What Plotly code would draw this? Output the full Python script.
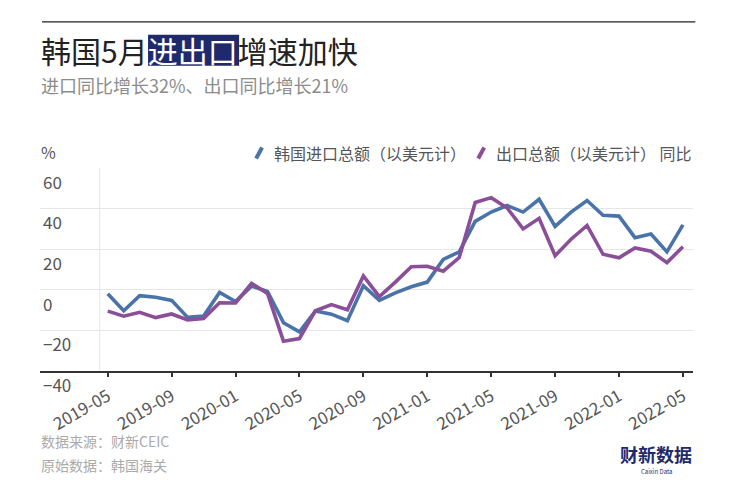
import plotly.graph_objects as go
import pandas as pd

# ---------------- data ----------------
months = [p.strftime("%Y-%m") for p in pd.period_range("2019-05", "2022-05", freq="M")]
tick_months = ["2019-05", "2019-09", "2020-01", "2020-05", "2020-09", "2021-01",
               "2021-05", "2021-09", "2022-01", "2022-05"]
imports_yoy = [-2, -10.3, -2.9, -3.7, -5.2, -13.6, -12.9, -1.3, -5.8, 1.8, -0.8, -16.2, -20.7,
               -10.4, -12, -15.2, 2, -5.2, -1.5, 1.5, 3.8, 15, 18.7, 33.7, 38.3, 41.5, 38.3,
               44.6, 31.2, 38.3, 44, 36.7, 36.3, 25.7, 27.5, 18.7, 32]
exports_yoy = [-10.5, -13, -11.1, -13.7, -11.9, -14.8, -14.2, -6.4, -6.5, 3.2, -1.8, -25.3, -24,
               -10.3, -7.3, -9.8, 6.8, -3.3, 3.8, 11.4, 11.6, 9.2, 15.9, 43, 45.4, 40.3, 30,
               35.2, 16.8, 24.9, 31.7, 17.5, 15.8, 20.6, 19, 13.4, 21.2]
series_names = ["韩国进口总额（以美元计）", "出口总额（以美元计） 同比"]
colors = ["#4a73aa", "#8a4f98"]

title_pre, title_hi, title_post = "韩国5月", "进出口", "增速加快"
subtitle = "进口同比增长32%、出口同比增长21%"
footer = ["数据来源：财新CEIC", "原始数据：韩国海关"]

# ---------------- geometry helpers ----------------
W, H = 731, 487
L, R, T, B = 40, 692.7, 168, 370.7
PW, PH = R - L, B - T


def px(x):
    return (x - L) / PW


def py(y):
    return (B - y) / PH


FONT = "Noto Sans CJK SC"

fig = go.Figure()
for name, vals, c in zip(series_names, [imports_yoy, exports_yoy], colors):
    fig.add_trace(go.Scatter(x=months, y=vals, mode="lines", name=name,
                             line=dict(color=c, width=3.6), showlegend=False))

i_left = (L - 107.7) / 15.97
i_right = (R - 107.7) / 15.97

fig.update_layout(
    width=W, height=H,
    margin=dict(l=L, r=W - R, t=T, b=H - B, pad=0),
    paper_bgcolor="white", plot_bgcolor="white",
    font=dict(family=FONT, color="#555555"),
    xaxis=dict(type="category", range=[i_left, i_right], tickmode="array",
               tickvals=tick_months, ticktext=tick_months, tickangle=-30,
               showgrid=False, showline=True, linecolor="#333333", linewidth=2,
               ticks="outside", ticklen=4, tickwidth=1.5, tickcolor="#333333",
               automargin=False, ticklabelstandoff=3,
               tickfont=dict(size=17, color="#555555", family=FONT)),
    yaxis=dict(range=[-40, 60], dtick=20, tick0=0, showgrid=True, gridcolor="#e6e6e6",
               gridwidth=1, zeroline=False, showline=False, automargin=False,
               ticklabelposition="inside bottom", ticklabeloverflow="allow",
               ticklabelshift=3,
               tickfont=dict(size=17, color="#555555", family=FONT)),
)

shapes = []
# faint vertical boundary line
shapes.append(dict(type="line", xref="x", yref="paper", x0=-0.5, x1=-0.5, y0=0, y1=1,
                   line=dict(color="#e6e6e6", width=1), layer="below"))
# top black rule
shapes.append(dict(type="line", xref="paper", yref="paper", x0=px(42), x1=px(695),
                   y0=py(22), y1=py(22), line=dict(color="#222222", width=1.2)))
# highlight box behind 进出口
shapes.append(dict(type="rect", xref="paper", yref="paper", x0=px(148), x1=px(239),
                   y0=py(66), y1=py(35), fillcolor="#1f2a6d", line=dict(width=0)))
# legend icons (slanted strokes)
for x0, c in [(256, colors[0]), (478, colors[1])]:
    shapes.append(dict(type="line", xref="paper", yref="paper", x0=px(x0), x1=px(x0 + 6),
                       y0=py(158.5), y1=py(147.5), line=dict(color=c, width=4)))
fig.update_layout(shapes=shapes)

ann = []
ann.append(dict(xref="paper", yref="paper", x=px(39), y=py(50), xanchor="left", yanchor="middle",
                text=f"{title_pre}<span style='color:white'>{title_hi}</span>{title_post}",
                showarrow=False, font=dict(size=30, color="#222222", family=FONT)))
ann.append(dict(xref="paper", yref="paper", x=px(39), y=py(85), xanchor="left", yanchor="middle",
                text=subtitle, showarrow=False, font=dict(size=18, color="#8c8c8c", family=FONT)))
ann.append(dict(xref="paper", yref="paper", x=px(39), y=py(152), xanchor="left", yanchor="middle",
                text="%", showarrow=False, font=dict(size=16, color="#555555", family=FONT)))
ann.append(dict(xref="paper", yref="paper", x=px(272), y=py(153), xanchor="left", yanchor="middle",
                text=series_names[0], showarrow=False, font=dict(size=16, color="#555555", family=FONT)))
ann.append(dict(xref="paper", yref="paper", x=px(494), y=py(153), xanchor="left", yanchor="middle",
                text=series_names[1], showarrow=False, font=dict(size=16, color="#555555", family=FONT)))
for i, t in enumerate(footer):
    ann.append(dict(xref="paper", yref="paper", x=px(39), y=py(441 + 24 * i), xanchor="left",
                    yanchor="middle", text=t, showarrow=False,
                    font=dict(size=14, color="#aaaaaa", family=FONT)))
ann.append(dict(xref="paper", yref="paper", x=px(656), y=py(454), xanchor="center", yanchor="middle",
                text="<b>财新数据</b>", showarrow=False, font=dict(size=18, color="#1f2a6d", family=FONT)))
ann.append(dict(xref="paper", yref="paper", x=px(656), y=py(471.5), xanchor="center", yanchor="middle",
                text="Caixin Data", showarrow=False, font=dict(size=6, color="#1f2a6d", family=FONT)))
fig.update_layout(annotations=ann)

fig.write_html("out.html", config={"displayModeBar": False},
               post_script="document.body.style.margin='0';")
